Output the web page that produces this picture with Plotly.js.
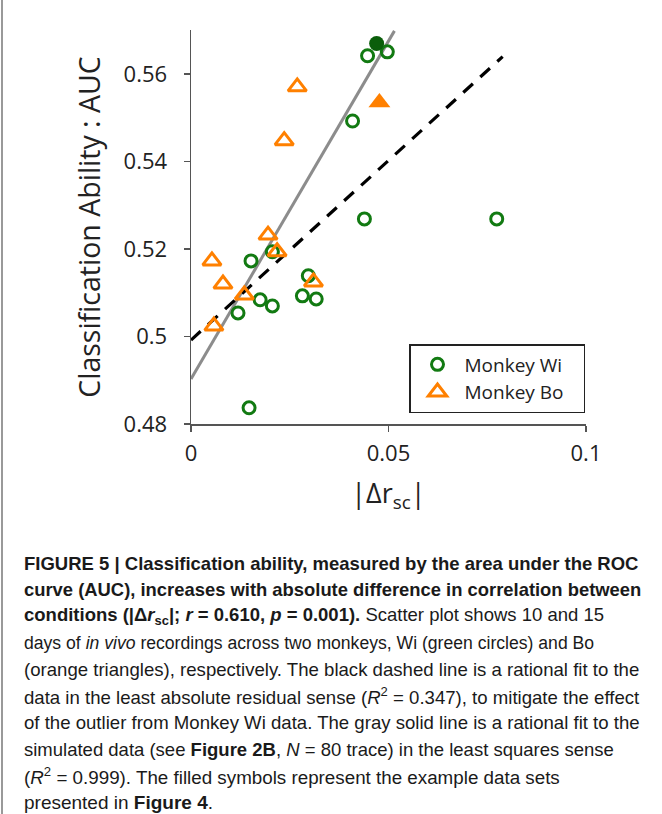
<!DOCTYPE html>
<html>
<head>
<meta charset="utf-8">
<script src="https://cdn.plot.ly/plotly-3.0.1.min.js"></script>
<style>
html,body{margin:0;padding:0;background:#fff;}
#chart{width:662px;height:814px;}
</style>
</head>
<body>
<div id="chart"></div>
<script>
// Monkey Wi (open green circles)
const wiX = [0.0447, 0.0497, 0.0409, 0.0439, 0.0774, 0.0206, 0.0152, 0.0297, 0.0282, 0.0317, 0.0175, 0.0206, 0.0119, 0.0147];
const wiY = [0.5642, 0.5651, 0.5493, 0.5269, 0.5269, 0.5194, 0.5173, 0.5139, 0.5093, 0.5086, 0.5084, 0.5070, 0.5054, 0.4837];
// Monkey Wi example data set (filled)
const wiFillX = [0.0470];
const wiFillY = [0.5670];
// Monkey Bo (open orange triangles)
const boX = [0.0269, 0.0236, 0.0195, 0.0218, 0.0053, 0.0081, 0.0135, 0.0058, 0.0310];
const boY = [0.5571, 0.5448, 0.5232, 0.5194, 0.5173, 0.5120, 0.5095, 0.5024, 0.5125];
// Monkey Bo example data set (filled)
const boFillX = [0.0477];
const boFillY = [0.5535];
// Fit lines
const dashX = [0, 0.0789];
const dashY = [0.4992, 0.5640];
const grayX = [0, 0.0515];
const grayY = [0.4903, 0.5699];
// Ticks
const xTicks = [0, 0.05, 0.1];
const xTickText = ['0', '0.05', '0.1'];
const yTicks = [0.48, 0.50, 0.52, 0.54, 0.56];
const yTickText = ['0.48', '0.5', '0.52', '0.54', '0.56'];
// Caption
const captionLines = [
  '<b>FIGURE 5 | Classification ability, measured by the area under the ROC</b>',
  '<b>curve (AUC), increases with absolute difference in correlation between</b>',
  '<b>conditions (|Δ<i>r</i><sub>sc</sub>|; <i>r</i> = 0.610, <i>p</i> = 0.001).</b> Scatter plot shows 10 and 15',
  'days of <i>in vivo</i> recordings across two monkeys, Wi (green circles) and Bo',
  '(orange triangles), respectively. The black dashed line is a rational fit to the',
  'data in the least absolute residual sense (<i>R</i><sup>2</sup> = 0.347), to mitigate the effect',
  'of the outlier from Monkey Wi data. The gray solid line is a rational fit to the',
  'simulated data (see <b>Figure 2B</b>, <i>N</i> = 80 trace) in the least squares sense',
  '(<i>R</i><sup>2</sup> = 0.999). The filled symbols represent the example data sets',
  'presented in <b>Figure 4</b>.'
];
// per-line font sizes (style only), to fit the line widths of the condensed original font
const captionFontSizes = [18.5, 18.4, 18.5, 17.6, 18.6, 18.6, 18.6, 18.5, 18.8, 19];

const green = '#127a12';
const greenDark = '#0b5e0b';
const orange = '#ff8000';
const axisFont = 'Open Sans, Noto Sans, sans-serif';
const nb = '\u00A0';

const traces = [
  {x: grayX, y: grayY, mode: 'lines', line: {color: '#8c8c8c', width: 3}, showlegend: false, hoverinfo: 'skip'},
  {x: dashX, y: dashY, mode: 'lines', line: {color: '#000', width: 3.2, dash: '13px,10px'}, showlegend: false, hoverinfo: 'skip'},
  {x: wiX, y: wiY, mode: 'markers', name: 'Monkey Wi' + nb + nb + nb,
   marker: {symbol: 'circle-open', size: 12, color: green, line: {width: 3, color: green}}},
  {x: boX, y: boY, mode: 'markers', name: 'Monkey Bo' + nb + nb + nb,
   marker: {symbol: 'triangle-up-open', size: 16, color: orange, line: {width: 3, color: orange}}},
  {x: wiFillX, y: wiFillY, mode: 'markers', showlegend: false,
   marker: {symbol: 'circle', size: 15, color: greenDark}},
  {x: boFillX, y: boFillY, mode: 'markers', showlegend: false,
   marker: {symbol: 'triangle-up', size: 19, color: orange}}
];

const plotTop = 30, plotBottom = 424, plotLeft = 191, plotRight = 586;
const plotH = plotBottom - plotTop, plotW = plotRight - plotLeft;

const annotations = captionLines.map((t, i) => ({
  text: t, xref: 'paper', yref: 'paper', showarrow: false,
  x: (22 - plotLeft) / plotW, xanchor: 'left',
  y: (plotBottom - (563 + i * 26.6)) / plotH, yanchor: 'middle',
  align: 'left',
  font: {family: 'Liberation Sans, Arial, sans-serif', size: captionFontSizes[i], color: '#1a1a1a'}
}));

const layout = {
  width: 662, height: 814,
  margin: {l: plotLeft, r: 662 - plotRight, t: plotTop, b: 814 - plotBottom, pad: 0},
  paper_bgcolor: '#fff', plot_bgcolor: '#fff',
  font: {family: axisFont, color: '#222'},
  xaxis: {
    range: [0, 0.1], tickvals: xTicks, ticktext: xTickText,
    showgrid: false, zeroline: false, showline: true, linecolor: '#555', linewidth: 1.5,
    ticks: 'outside', ticklen: 6, tickcolor: '#555', tickwidth: 1.5,
    ticklabelstandoff: 3,
    tickfont: {family: axisFont, size: 22, color: '#222'},
    title: {text: '|Δr<sub>sc</sub>|', font: {family: axisFont, size: 27, color: '#222'}, standoff: 18}
  },
  yaxis: {
    range: [0.48, 0.5701], tickvals: yTicks, ticktext: yTickText,
    showgrid: false, zeroline: false, showline: true, linecolor: '#555', linewidth: 1.5,
    ticks: 'outside', ticklen: 6, tickcolor: '#555', tickwidth: 1.5,
    ticklabelstandoff: 12,
    tickfont: {family: axisFont, size: 22, color: '#222'},
    title: {text: 'Classification Ability : AUC', font: {family: axisFont, size: 28.5, color: '#222'}, standoff: 14}
  },
  legend: {
    x: (409 - plotLeft) / plotW, y: (plotBottom - 344) / plotH,
    xanchor: 'left', yanchor: 'top',
    bgcolor: '#fff', bordercolor: '#222', borderwidth: 1.5,
    font: {family: axisFont, size: 19, color: '#222'},
    itemwidth: 44
  },
  shapes: [
    {type: 'line', xref: 'paper', yref: 'paper',
     x0: (2 - plotLeft) / plotW, x1: (2 - plotLeft) / plotW,
     y0: (plotBottom - 0) / plotH, y1: (plotBottom - 814) / plotH,
     line: {color: '#777', width: 1.5}}
  ],
  annotations: annotations,
  showlegend: true
};

Plotly.newPlot('chart', traces, layout, {displayModeBar: false, staticPlot: true});
</script>
</body>
</html>
